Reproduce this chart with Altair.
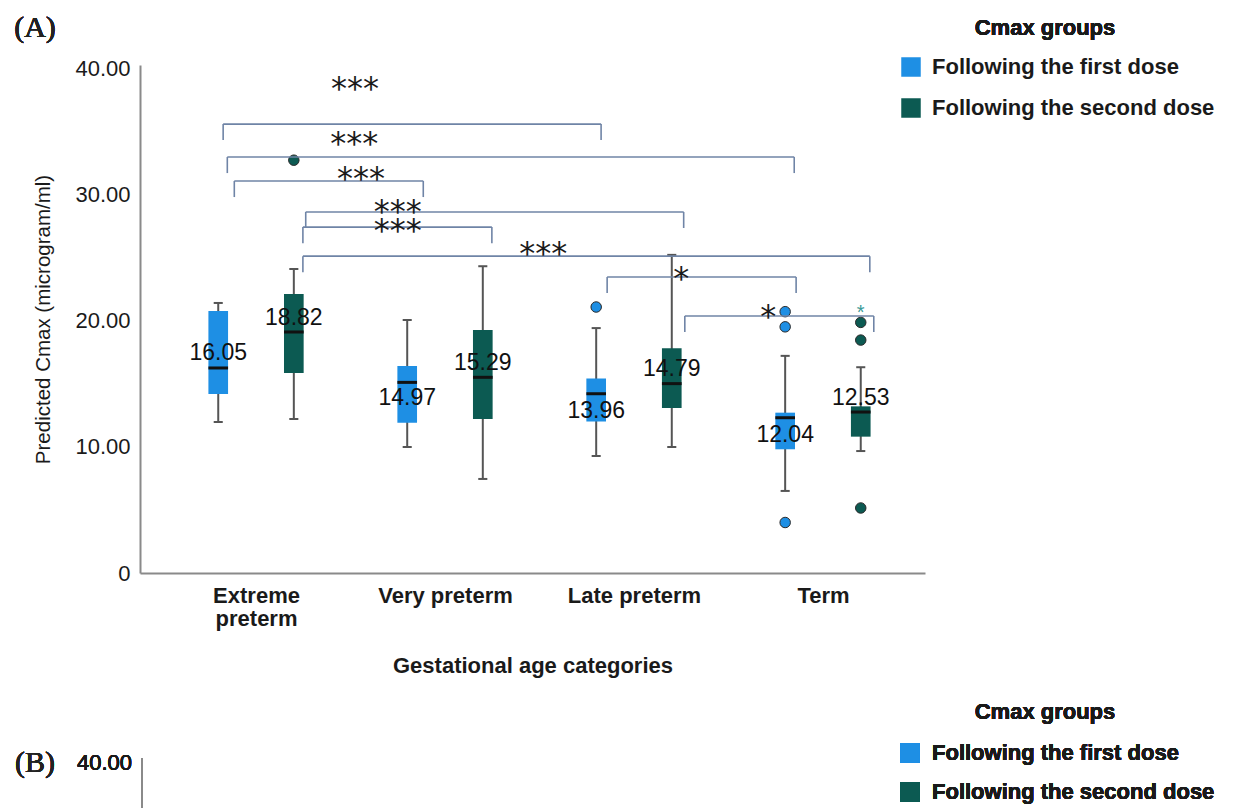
import json
import altair as alt
import pandas as pd

# ---------------- data ----------------
categories = ["Extreme preterm", "Very preterm", "Late preterm", "Term"]
groups = ["Following the first dose", "Following the second dose"]
group_colors = ["#1e8fe4", "#0c5a52"]

first_low = [11.96, 9.98, 9.27, 6.5]
first_q1 = [14.18, 11.9, 12.0, 9.8]
first_median = [16.24, 15.1, 14.2, 12.3]
first_q3 = [20.75, 16.4, 15.4, 12.7]
first_high = [21.39, 20.04, 19.4, 17.2]
first_mean = [16.05, 14.97, 13.96, 12.04]
first_label_side = ["above", "below", "below", "below"]

second_low = [12.2, 7.45, 9.98, 9.66]
second_q1 = [15.84, 12.2, 13.07, 10.8]
second_median = [19.09, 15.5, 15.0, 12.75]
second_q3 = [22.1, 19.25, 17.8, 13.2]
second_high = [24.08, 24.3, 25.2, 16.3]
second_mean = [18.82, 15.29, 14.79, 12.53]
second_label_side = ["above", "above", "above", "above"]

outlier_category = ["Late preterm", "Term", "Term", "Term", "Extreme preterm", "Term", "Term", "Term"]
outlier_group = [0, 0, 0, 0, 1, 1, 1, 1]
outlier_value = [21.07, 20.7, 19.5, 4.0, 32.7, 19.85, 18.45, 5.15]

extreme_category = ["Term"]
extreme_group = [1]
extreme_value = [21.07]

bracket_from_cat = ["Extreme preterm", "Extreme preterm", "Extreme preterm", "Extreme preterm",
                    "Extreme preterm", "Extreme preterm", "Late preterm", "Late preterm"]
bracket_from_group = [0, 0, 0, 1, 1, 1, 0, 1]
bracket_to_cat = ["Late preterm", "Term", "Very preterm", "Late preterm",
                  "Very preterm", "Term", "Term", "Term"]
bracket_to_group = [0, 0, 0, 1, 1, 1, 0, 1]
bracket_level = [35.56, 32.95, 31.05, 28.6, 27.4, 25.1, 23.45, 20.36]
bracket_label = ["***", "***", "***", "***", "***", "***", "*", "*"]
bracket_label_x = [1.524, 1.52, 1.556, 1.75, 1.75, 2.52, 3.25, 3.71]
bracket_label_y = [39.05, 34.7, 31.9, 29.3, 27.8, 26.0, 24.0, 21.0]

# ---------------- layout helpers ----------------
GROUP_OFFSET = 0.2
BOX_HALF = 0.052
CAP_HALF = 0.024
BRACKET_SHIFT = [0.026, 0.048, 0.085, 0.063, 0.048, 0.048, 0.058, 0.069]
BRACKET_DROP = 1.27

def xpos(cat, g):
    return categories.index(cat) + 1 + (-GROUP_OFFSET if g == 0 else GROUP_OFFSET)

rows = []
stats = [
    (first_low, first_q1, first_median, first_q3, first_high, first_mean, first_label_side),
    (second_low, second_q1, second_median, second_q3, second_high, second_mean, second_label_side),
]
for g, (lo, q1, md, q3, hi, mn, side) in enumerate(stats):
    for i, c in enumerate(categories):
        p = xpos(c, g)
        rows.append(dict(group=groups[g], pos=p, bx1=p - BOX_HALF, bx2=p + BOX_HALF,
                         cx1=p - CAP_HALF, cx2=p + CAP_HALF,
                         low=lo[i], q1=q1[i], median=md[i], q3=q3[i], high=hi[i],
                         mean=mn[i], label=f"{mn[i]:.2f}", side=side[i]))
box_df = pd.DataFrame(rows)

out_df = pd.DataFrame(dict(
    group=[groups[g] for g in outlier_group],
    pos=[xpos(c, g) for c, g in zip(outlier_category, outlier_group)],
    value=outlier_value))

ext_df = pd.DataFrame(dict(
    pos=[xpos(c, g) for c, g in zip(extreme_category, extreme_group)],
    value=extreme_value))

seg = []
for k in range(len(bracket_level)):
    xa = xpos(bracket_from_cat[k], bracket_from_group[k]) + BRACKET_SHIFT[k]
    xb = xpos(bracket_to_cat[k], bracket_to_group[k]) + BRACKET_SHIFT[k]
    lv = bracket_level[k]
    seg.append(dict(x=xa, x2=xb, y=lv, y2=lv))
    seg.append(dict(x=xa, x2=xa, y=lv, y2=lv - BRACKET_DROP))
    seg.append(dict(x=xb, x2=xb, y=lv, y2=lv - BRACKET_DROP))
seg_df = pd.DataFrame(seg)
blab_df = pd.DataFrame(dict(x=bracket_label_x, y=bracket_label_y, text=bracket_label))

# ---------------- scales / axes ----------------
FONT = "Liberation Sans"
xscale = alt.Scale(domain=[0.386, 4.54], nice=False, zero=False)
yscale = alt.Scale(domain=[0, 40.24], nice=False, zero=False)

cat_labels = [c.split(" ") if c == "Extreme preterm" else c for c in categories]
label_expr = " : ".join(
    f"datum.value == {i + 1} ? {json.dumps(l)}" for i, l in enumerate(cat_labels[:-1])
) + f" : {json.dumps(cat_labels[-1])}"

xaxis = alt.Axis(values=[1, 2, 3, 4], labelExpr=label_expr, title="Gestational age categories",
                 grid=False, ticks=False, domainColor="#8a8a8a", domainWidth=2,
                 labelFont=FONT, labelFontSize=22, labelFontWeight="bold", labelColor="#1a1a1a",
                 labelPadding=12, labelLineHeight=23,
                 titleFont=FONT, titleFontSize=22, titleFontWeight="bold", titleColor="#1a1a1a",
                 titleY=92, titleBaseline="middle")
yaxis = alt.Axis(values=[0, 10, 20, 30, 40],
                 labelExpr="datum.value == 0 ? '0' : format(datum.value, '.2f')",
                 title="Predicted Cmax (microgram/ml)",
                 grid=False, ticks=False, domainColor="#8a8a8a", domainWidth=2,
                 labelFont=FONT, labelFontSize=22, labelColor="#1a1a1a", labelPadding=10,
                 titleFont=FONT, titleFontSize=20.5, titleFontWeight="normal",
                 titleColor="#1a1a1a", titleAngle=-90, titleX=-97, titleY=254,
                 titleAlign="center", titleBaseline="middle")

X = lambda f: alt.X(f, type="quantitative", scale=xscale, axis=xaxis)
Y = lambda f: alt.Y(f, type="quantitative", scale=yscale, axis=yaxis)

base = alt.Chart(box_df)

whisk = base.mark_rule(color="#555555", strokeWidth=2).encode(x=X("pos"), y=Y("low"), y2="high:Q")
cap_lo = base.mark_rule(color="#555555", strokeWidth=2).encode(x=X("cx1"), x2="cx2", y=Y("low"))
cap_hi = base.mark_rule(color="#555555", strokeWidth=2).encode(x=X("cx1"), x2="cx2", y=Y("high"))
boxes = base.mark_rect().encode(
    x=X("bx1"), x2="bx2", y=Y("q1"), y2="q3",
    color=alt.Color("group:N", scale=alt.Scale(domain=groups, range=group_colors),
                    legend=alt.Legend(title=None, orient="none", legendX=760, legendY=-9,
                                      symbolType="square", symbolSize=380, symbolStrokeWidth=0,
                                      labelFont=FONT, labelFontSize=22, labelFontWeight="bold",
                                      labelColor="#1a1a1a", labelOffset=10, rowPadding=19,
                                      labelLimit=400)))
medians = base.mark_rule(color="#111111", strokeWidth=3).encode(x=X("bx1"), x2="bx2", y=Y("median"))

outliers = alt.Chart(out_df).mark_point(filled=True, size=110, stroke="#2a2a2a", strokeWidth=1,
                                        opacity=1).encode(
    x=X("pos"), y=Y("value"),
    fill=alt.Fill("group:N", scale=alt.Scale(domain=groups, range=group_colors), legend=None))
extreme = alt.Chart(ext_df).mark_text(text="*", fontSize=20, color="#3a9a98", font=FONT,
                                      baseline="alphabetic", dy=12).encode(x=X("pos"), y=Y("value"))

brackets = alt.Chart(seg_df).mark_rule(color="#6f84a6", strokeWidth=1.6).encode(
    x=X("x"), x2="x2", y=Y("y"), y2="y2")
blabels = alt.Chart(blab_df).mark_text(fontSize=32, font="DejaVu Sans", color="#1a1a1a",
                                       baseline="alphabetic", dy=19).encode(
    x=X("x"), y=Y("y"), text="text:N")

mean_above = base.transform_filter(alt.datum.side == "above").mark_text(
    fontSize=23, font=FONT, color="#111111", baseline="middle", dy=-17).encode(
    x=X("pos"), y=Y("mean"), text="label:N")
mean_below = base.transform_filter(alt.datum.side == "below").mark_text(
    fontSize=23, font=FONT, color="#111111", baseline="middle", dy=14).encode(
    x=X("pos"), y=Y("mean"), text="label:N")

# ---------------- annotations (panel tags, legend titles, start of panel B) ----------------
def note(txt, px, py, size=22, weight="bold", font=FONT, align="center", color="#1a1a1a"):
    return alt.Chart(box_df).mark_text(text=txt, fontSize=size, fontWeight=weight, font=font,
                                       align=align, baseline="middle", color=color).encode(
        x=alt.value(px), y=alt.value(py))

ann = [
    note("(A)", -105, -37, size=30, weight="normal", font="Liberation Serif", color="#222222"),
    note("Cmax groups", 905, -37),
    note("(B)", -105, 698, size=30, weight="normal", font="Liberation Serif", color="#222222"),
    note("40.00", -8, 698, weight="normal", align="right"),
    note("Cmax groups", 905, 647),
    note(groups[0], 792, 688, align="left"),
    note(groups[1], 792, 727, align="left"),
    alt.Chart(box_df).mark_point(shape="square", filled=True, size=380, opacity=1).encode(
        x=alt.value(770), y=alt.value(688), color=alt.value(group_colors[0])),
    alt.Chart(box_df).mark_point(shape="square", filled=True, size=380, opacity=1).encode(
        x=alt.value(770), y=alt.value(727), color=alt.value(group_colors[1])),
    alt.Chart(box_df).mark_rule(color="#8a8a8a", strokeWidth=2).encode(
        x=alt.value(2), y=alt.value(693), y2=alt.value(745)),
]

chart = alt.layer(
    whisk, cap_lo, cap_hi, boxes, medians, outliers, extreme, brackets, blabels,
    mean_above, mean_below, *ann
).properties(
    width=785, height=508,
    autosize=alt.AutoSizeParams(type="none"),
    padding={"left": 132, "top": 57, "right": 308, "bottom": 235},
    background="white",
).configure_view(stroke=None)

chart.save("out.html", embed_options={"renderer": "svg", "actions": False})
